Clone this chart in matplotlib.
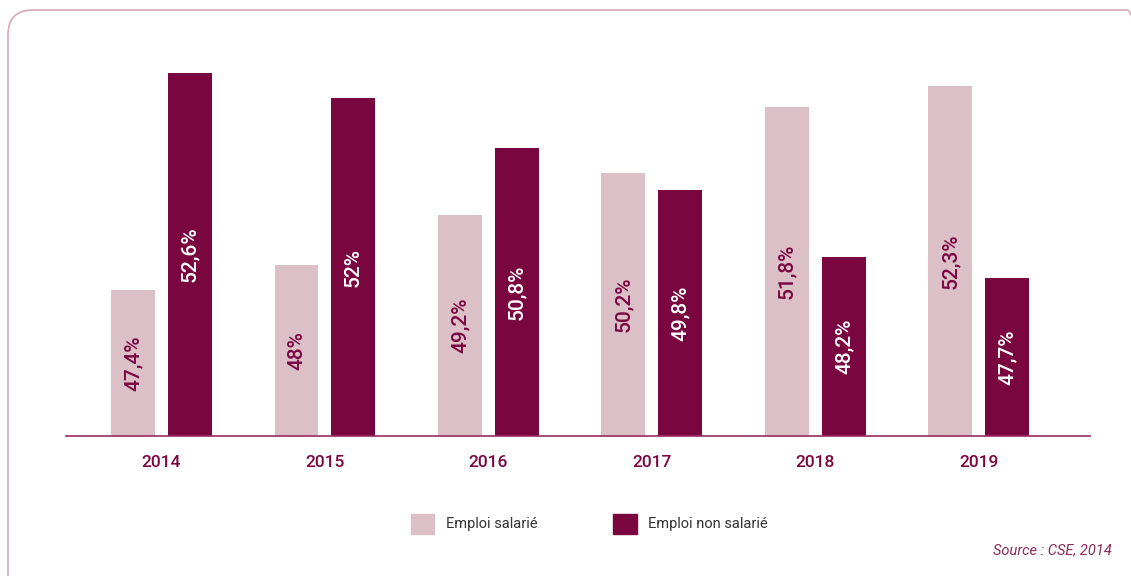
import matplotlib
matplotlib.use("Agg")
import matplotlib.pyplot as plt
from matplotlib.patches import FancyBboxPatch, Rectangle
import numpy as np

years = ["2014", "2015", "2016", "2017", "2018", "2019"]
salarie = [47.4, 48.0, 49.2, 50.2, 51.8, 52.3]
non_salarie = [52.6, 52.0, 50.8, 49.8, 48.2, 47.7]
labels_salarie = ["47,4%", "48%", "49,2%", "50,2%", "51,8%", "52,3%"]
labels_non_salarie = ["52,6%", "52%", "50,8%", "49,8%", "48,2%", "47,7%"]

light = "#dcc0c7"
dark = "#7a0640"
base = 43.9

plt.rcParams["font.family"] = ["Roboto", "DejaVu Sans"]

fig = plt.figure(figsize=(11.31, 5.76), dpi=100)

# rounded frame around the chart, running off the right and bottom edges
frame = FancyBboxPatch((8 / 1131, -0.2), (1152 - 8) / 1131, 1.2 - 10 / 576,
                       boxstyle="round,pad=0,rounding_size=0.022",
                       transform=fig.transFigure, fill=False,
                       edgecolor="#d6a9bb", linewidth=1.2,
                       mutation_aspect=1131 / 576)
fig.patches.append(frame)

ax = fig.add_axes([66 / 1131, 1 - 436 / 576, 1024 / 1131, 396 / 576])

x = np.arange(len(years))
w = 0.269
off = 0.174
ax.bar(x - off, np.array(salarie) - base, w, bottom=base, color=light)
ax.bar(x + off, np.array(non_salarie) - base, w, bottom=base, color=dark)

for i in range(len(years)):
    ax.text(x[i] - off, base + (salarie[i] - base) / 2, labels_salarie[i],
            rotation=90, ha="center", va="center", color=dark, fontsize=15,
            fontweight="medium")
    ax.text(x[i] + off, base + (non_salarie[i] - base) / 2, labels_non_salarie[i],
            rotation=90, ha="center", va="center", color="white", fontsize=15,
            fontweight="medium")

ax.set_xlim(-0.584, 5.68)
ax.set_ylim(base, 53.4)
for s in ["top", "right", "left"]:
    ax.spines[s].set_visible(False)
ax.spines["bottom"].set_color("#9b2a62")
ax.spines["bottom"].set_linewidth(1.2)
ax.set_yticks([])
ax.set_xticks(x)
ax.set_xticklabels(years, fontsize=12.5, color=dark, fontweight="medium")
ax.tick_params(axis="x", length=0, pad=14)

# legend
fig.patches.append(Rectangle((411 / 1131, 1 - 534 / 576), 23 / 1131, 20 / 576,
                             transform=fig.transFigure, color=light))
fig.text(446 / 1131, 1 - 524 / 576, "Emploi salarié", fontsize=10.5,
         color="#333333", va="center")
fig.patches.append(Rectangle((613 / 1131, 1 - 534 / 576), 24 / 1131, 20 / 576,
                             transform=fig.transFigure, color=dark))
fig.text(648 / 1131, 1 - 524 / 576, "Emploi non salarié", fontsize=10.5,
         color="#333333", va="center")

fig.text(1112 / 1131, 1 - 550 / 576, "Source : CSE, 2014", fontsize=10.5,
         color="#8a2a5a", style="italic", ha="right", va="center")

fig.savefig("out.png", dpi=100)
